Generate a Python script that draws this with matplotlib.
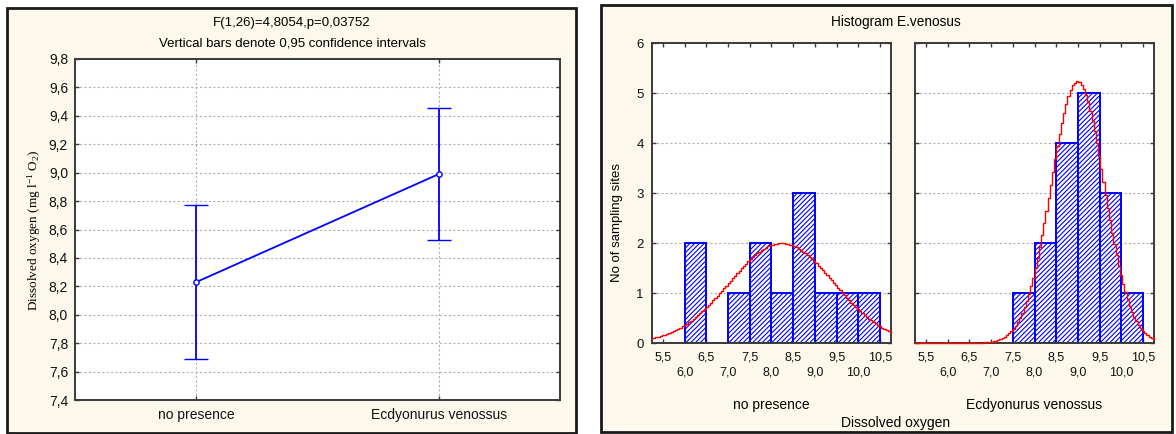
import numpy as np
import matplotlib
matplotlib.use("Agg")
import matplotlib.pyplot as plt
from matplotlib.patches import Rectangle

plt.rcParams["font.family"] = ["Liberation Sans", "DejaVu Sans"]
plt.rcParams["mathtext.fontset"] = "custom"
plt.rcParams["mathtext.rm"] = "Liberation Serif"
plt.rcParams["mathtext.default"] = "rm"
plt.rcParams["hatch.linewidth"] = 0.8

# ---- data: means with 95% confidence intervals ----
groups = ["no presence", "Ecdyonurus venossus"]
group_means = [8.23, 8.99]
ci_low = [7.69, 8.525]
ci_high = [8.77, 9.455]
anova_text = "F(1,26)=4,8054,p=0,03752"
ci_note = "Vertical bars denote 0,95 confidence intervals"
mean_yticks = [7.4, 7.6, 7.8, 8.0, 8.2, 8.4, 8.6, 8.8, 9.0, 9.2, 9.4, 9.6, 9.8]

# ---- data: histograms of dissolved oxygen ----
bin_width = 0.5
bins_np = [6.0, 6.5, 7.0, 7.5, 8.0, 8.5, 9.0, 9.5, 10.0]
counts_np = [2, 0, 1, 2, 1, 3, 1, 1, 1]
bins_ev = [7.5, 8.0, 8.5, 9.0, 9.5, 10.0]
counts_ev = [1, 2, 4, 5, 3, 1]
fit_np = (8.23, 1.20)   # mean, sd of fitted normal
fit_ev = (8.99, 0.61)
hist_xticks = [5.5, 6.0, 6.5, 7.0, 7.5, 8.0, 8.5, 9.0, 9.5, 10.0, 10.5]
hist_yticks = [0, 1, 2, 3, 4, 5, 6]

W, H = 1176, 434
BG = "#FDF8EC"
BLUE = "#0000FF"
SPINE = "#3a3a3a"
GRID = "#b0b0b0"


def box(x0, y0, x1, y1):
    return [x0 / W, 1 - y1 / H, (x1 - x0) / W, (y1 - y0) / H]


def comma(v, nd=1):
    return f"{v:.{nd}f}".replace(".", ",")


fig = plt.figure(figsize=(W / 100, H / 100), dpi=100, facecolor="white")

# panel frames
for (x0, y0, x1, y1) in [(7, 8, 576, 433), (601, 5, 1172, 432)]:
    fig.add_artist(Rectangle((x0 / W, 1 - y1 / H), (x1 - x0) / W, (y1 - y0) / H,
                             transform=fig.transFigure, facecolor=BG,
                             edgecolor="#1a1a1a", linewidth=2, zorder=0))


def style_axes(ax):
    for s in ax.spines.values():
        s.set_color(SPINE)
        s.set_linewidth(1.4)
    ax.tick_params(which="both", direction="in", length=3, width=1, color=SPINE,
                   top=True, right=True, labelcolor="#111111")


# ---- means plot ----
ax0 = fig.add_axes(box(75, 59, 560, 400))
style_axes(ax0)
xpos = np.arange(1, len(groups) + 1)
means = np.array(group_means)
yerr = [means - np.array(ci_low), np.array(ci_high) - means]
ax0.errorbar(xpos, means, yerr=yerr, color=BLUE, lw=1.3, capsize=8.3,
             capthick=1.3, marker="o", ms=3.8, mfc="white", mec=BLUE, mew=1,
             zorder=3)
ax0.set_xlim(0.5, 2.5)
ax0.set_ylim(7.4, 9.8)
ax0.set_yticks(mean_yticks)
ax0.set_yticklabels([comma(v) for v in mean_yticks], fontsize=10)
ax0.set_xticks(xpos)
ax0.set_xticklabels(groups, fontsize=10)
ax0.tick_params(axis="x", pad=6)
ax0.tick_params(axis="y", pad=5)
ax0.grid(True, color=GRID, linestyle=(0, (2, 2)), linewidth=0.8)
ax0.set_axisbelow(True)
fig.text(292 / W, 1 - 23 / H, anova_text, ha="center", va="center", fontsize=9.5)
fig.text(292 / W, 1 - 44 / H, ci_note, ha="center", va="center", fontsize=9.5)
fig.text(34 / W, 1 - 230 / H, r"Dissolved oxygen (mg l$^{-1}$ O$_2$)",
         rotation=90, ha="center", va="center", fontsize=9.5,
         family="Liberation Serif")

# ---- histograms ----
def histogram(ax, bins, counts, fit, label):
    style_axes(ax)
    ax.bar(bins, counts, width=bin_width, align="edge", facecolor="white",
           edgecolor=BLUE, linewidth=1.4, hatch="///////", zorder=2)
    ax.set_xlim(5.25, 10.75)
    ax.set_ylim(0, 6)
    xs = np.linspace(5.25, 10.75, 110)
    mu, sd = fit
    n = sum(counts)
    ys = n * bin_width / (sd * np.sqrt(2 * np.pi)) * np.exp(-0.5 * ((xs - mu) / sd) ** 2)
    ax.plot(xs, ys, color="red", lw=1.0, drawstyle="steps-mid", zorder=3,
            clip_on=False)
    ax.set_yticks(hist_yticks)
    # staggered labels: half-units on the first row, whole units below
    upper = hist_xticks[0::2]
    lower = hist_xticks[1::2]
    ax.set_xticks(upper)
    ax.set_xticklabels([comma(v) for v in upper])
    ax.set_xticks(lower, minor=True)
    ax.set_xticklabels([comma(v) for v in lower], minor=True)
    ax.tick_params(axis="x", which="major", pad=6, labelsize=9)
    ax.tick_params(axis="x", which="minor", pad=17, labelsize=9)
    ax.grid(True, axis="y", color=GRID, linestyle=(0, (2, 2)), linewidth=0.8)
    ax.set_axisbelow(True)
    x0, x1 = ax.get_position().x0, ax.get_position().x1
    fig.text((x0 + x1) / 2, 1 - 405 / H, label, ha="center", va="center",
             fontsize=10)


ax1 = fig.add_axes(box(652, 43, 891, 343))
histogram(ax1, bins_np, counts_np, fit_np, groups[0])
ax1.set_yticklabels([str(v) for v in hist_yticks], fontsize=9.5)
ax1.tick_params(axis="y", pad=6)

ax2 = fig.add_axes(box(915, 43, 1154, 343))
histogram(ax2, bins_ev, counts_ev, fit_ev, groups[1])
ax2.set_yticklabels([])

fig.text(896 / W, 1 - 22 / H, "Histogram E.venosus", ha="center", va="center",
         fontsize=9.8)
fig.text(896 / W, 1 - 423 / H, "Dissolved oxygen", ha="center", va="center",
         fontsize=10)
fig.text(617 / W, 1 - 223 / H, "No of sampling sites", rotation=90,
         ha="center", va="center", fontsize=9.5)

fig.savefig("out.png", dpi=100, facecolor="white")
